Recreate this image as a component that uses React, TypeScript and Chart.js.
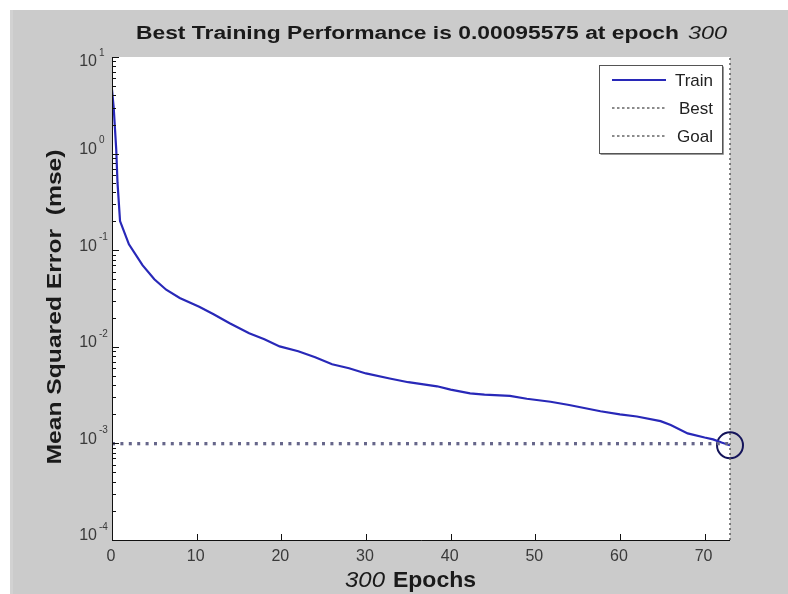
import React, { useEffect, useRef } from "react";
import { Chart, registerables } from "chart.js";

Chart.register(...registerables);

// ---- data ----
const epochs = [0, 0.2, 0.5, 0.65, 0.95, 2, 3.6, 5, 6.4, 8, 10.3, 12, 13.9, 16.2, 18, 19.8, 22, 24, 26, 28, 30, 32.8, 35, 38.4, 40, 42.3, 44, 47, 49, 51.8, 54, 57.7, 60, 62, 64.8, 66, 68, 70, 71, 72, 73];
const trainMse = [4.6, 3.0, 1.1, 0.5, 0.2, 0.115, 0.07, 0.05, 0.039, 0.032, 0.026, 0.0217, 0.0175, 0.0138, 0.012, 0.0101, 0.009, 0.0078, 0.0066, 0.006, 0.0053, 0.0047, 0.0043, 0.0039, 0.0036, 0.0033, 0.0032, 0.0031, 0.0029, 0.0027, 0.0025, 0.00215, 0.002, 0.0019, 0.0017, 0.00155, 0.00127, 0.00115, 0.0011, 0.00102, 0.00095575];
const bestEpoch = 73;
const bestPerf = 0.00095575;
const goalPerf = 0.001;
const xMin = 0;
const xMax = 73;
const yMin = 1e-4;
const yMax = 10;
const xTickValues = [0, 10, 20, 30, 40, 50, 60, 70];
const yExponents = [-4, -3, -2, -1, 0, 1];
const legendLabels = ["Train", "Best", "Goal"];
const titleText = "Best Training Performance is 0.00095575 at epoch";
const titleEpoch = "300";
const xLabelNum = "300";
const xLabelText = "Epochs";
const yLabelText = "Mean Squared Error  (mse)";

const FONT = '"Liberation Sans", Arial, sans-serif';
const GRAY = "#cbcbcb";
const TRAIN_COLOR = "#2828b8";

function fitText(ctx: CanvasRenderingContext2D, text: string, font: string, x: number, y: number, width: number, align: "left" | "center" = "left") {
  ctx.save();
  ctx.font = font;
  const w = ctx.measureText(text).width;
  const s = width / w;
  ctx.translate(x, y);
  ctx.scale(s, 1);
  ctx.textAlign = align;
  ctx.fillText(text, 0, 0);
  ctx.restore();
}

const framePlugin = {
  id: "matlabFrame",
  beforeDraw(chart: any) {
    const { ctx, chartArea: a } = chart;
    ctx.save();
    ctx.fillStyle = "#ffffff";
    ctx.fillRect(0, 0, chart.width, chart.height);
    ctx.fillStyle = GRAY;
    ctx.fillRect(10, 10, chart.width - 10, chart.height - 10);
    ctx.fillStyle = "#d2d2d2";
    ctx.fillRect(10, 10, 3, chart.height - 10);
    ctx.fillStyle = "#ffffff";
    ctx.fillRect(a.left, a.top, a.right - a.left, a.bottom - a.top);
    ctx.restore();
  },
  afterDraw(chart: any) {
    const { ctx, chartArea: a } = chart;
    const xs = chart.scales.x;
    const ys = chart.scales.y;
    ctx.save();
    // axis lines
    ctx.strokeStyle = "#111";
    ctx.lineWidth = 1;
    ctx.beginPath();
    ctx.moveTo(a.left + 0.5, a.top);
    ctx.lineTo(a.left + 0.5, a.bottom + 0.5);
    ctx.lineTo(a.right, a.bottom + 0.5);
    ctx.stroke();
    // y ticks (inward, log minor)
    ctx.beginPath();
    for (let n = -4; n <= 1; n++) {
      for (let k = 1; k <= 9; k++) {
        const v = k * Math.pow(10, n);
        if (v > yMax * 1.0001) break;
        const py = Math.round(ys.getPixelForValue(v)) + 0.5;
        const len = k === 1 ? 7 : 4;
        ctx.moveTo(a.left, py);
        ctx.lineTo(a.left + len, py);
      }
    }
    // x ticks (inward)
    for (const v of xTickValues) {
      const px = Math.round(xs.getPixelForValue(v)) + 0.5;
      ctx.moveTo(px, a.bottom);
      ctx.lineTo(px, a.bottom - 6);
    }
    ctx.stroke();

    // y tick labels
    ctx.fillStyle = "#3a3a3a";
    ctx.textBaseline = "middle";
    for (const n of yExponents) {
      const py = ys.getPixelForValue(Math.pow(10, n));
      let cy = py - 4;
      if (cy < a.top + 5) cy = a.top + 5;
      ctx.font = `16px ${FONT}`;
      ctx.textAlign = "right";
      ctx.fillText("10", 97, cy);
      ctx.font = `10px ${FONT}`;
      ctx.textAlign = "left";
      ctx.fillText(String(n), 99, cy - 9);
    }
    // x tick labels
    ctx.font = `16px ${FONT}`;
    ctx.textAlign = "center";
    for (const v of xTickValues) {
      const px = xs.getPixelForValue(v);
      ctx.fillText(String(v), px - 1, 557);
    }

    // title
    ctx.fillStyle = "#1a1a1a";
    ctx.textBaseline = "alphabetic";
    fitText(ctx, titleText, `bold 18px ${FONT}`, 136, 39, 543);
    fitText(ctx, titleEpoch, `italic 19px ${FONT}`, 688, 39, 39);

    // x label
    fitText(ctx, xLabelNum, `italic 22px ${FONT}`, 345, 587, 40);
    fitText(ctx, xLabelText, `bold 22px ${FONT}`, 393, 587, 83);

    // y label
    ctx.save();
    ctx.translate(61, 307);
    ctx.rotate(-Math.PI / 2);
    fitText(ctx, yLabelText, `bold 20px ${FONT}`, 0, 0, 315, "center");
    ctx.restore();

    // legend
    const lx = 599, ly = 65, lw = 123, lh = 88;
    ctx.fillStyle = "#ffffff";
    ctx.fillRect(lx, ly, lw, lh);
    ctx.strokeStyle = "#555";
    ctx.lineWidth = 1;
    ctx.strokeRect(lx + 0.5, ly + 0.5, lw, lh);
    ctx.strokeStyle = "#999";
    ctx.beginPath();
    ctx.moveTo(lx + 1.5, ly + lh + 1.5);
    ctx.lineTo(lx + lw + 1.5, ly + lh + 1.5);
    ctx.lineTo(lx + lw + 1.5, ly + 1.5);
    ctx.stroke();
    const rows = [80, 108, 136];
    legendLabels.forEach((lab, i) => {
      const yy = rows[i];
      ctx.beginPath();
      if (i === 0) {
        ctx.strokeStyle = TRAIN_COLOR;
        ctx.lineWidth = 2;
        ctx.setLineDash([]);
      } else {
        ctx.strokeStyle = "#666";
        ctx.lineWidth = 1.3;
        ctx.setLineDash([2.5, 2.5]);
      }
      ctx.moveTo(612, yy);
      ctx.lineTo(666, yy);
      ctx.stroke();
      ctx.setLineDash([]);
      ctx.fillStyle = "#222";
      ctx.textBaseline = "middle";
      ctx.font = `17px ${FONT}`;
      ctx.textAlign = "right";
      ctx.fillText(lab, 713, yy + 1);
    });
    ctx.restore();
  },
};

export default function App() {
  const ref = useRef<HTMLCanvasElement | null>(null);
  useEffect(() => {
    if (!ref.current) return;
    const chart = new Chart(ref.current, {
      type: "line",
      data: {
        datasets: [
          {
            label: "Goal",
            data: [{ x: xMin, y: goalPerf }, { x: xMax, y: goalPerf }],
            borderColor: "#66668a",
            borderWidth: 3,
            borderDash: [3, 5.4],
            pointRadius: 0,
            fill: false,
          },
          {
            label: "BestPerf",
            data: [{ x: xMin, y: bestPerf }, { x: bestEpoch, y: bestPerf }],
            borderColor: "rgba(90,90,128,0.3)",
            borderWidth: 1.5,
            borderDash: [3, 5.4],
            pointRadius: 0,
            fill: false,
          },
          {
            label: "Best",
            data: [{ x: bestEpoch, y: yMin }, { x: bestEpoch, y: yMax }],
            borderColor: "#5a5a5a",
            borderWidth: 1.5,
            borderDash: [2, 3],
            pointRadius: 0,
            fill: false,
            clip: false as any,
          },
          {
            label: "Train",
            data: epochs.map((e, i) => ({ x: e, y: trainMse[i] })),
            borderColor: TRAIN_COLOR,
            borderWidth: 2.2,
            pointRadius: 0,
            tension: 0,
            fill: false,
          },
          {
            label: "BestPoint",
            data: [{ x: bestEpoch, y: bestPerf }],
            showLine: false,
            pointRadius: 13,
            pointStyle: "circle",
            pointBorderColor: "#14145a",
            pointBorderWidth: 2,
            pointBackgroundColor: "rgba(0,0,0,0)",
            borderColor: "#14145a",
            clip: false as any,
          },
        ],
      },
      options: {
        animation: false,
        responsive: false,
        layout: { padding: { left: 112, top: 57, right: 58, bottom: 54 } },
        plugins: { legend: { display: false }, tooltip: { enabled: false }, title: { display: false } },
        scales: {
          x: {
            type: "linear",
            min: xMin,
            max: xMax,
            ticks: { display: false },
            grid: { display: false, drawTicks: false },
            border: { display: false },
          },
          y: {
            type: "logarithmic",
            min: yMin,
            max: yMax,
            ticks: { display: false },
            grid: { display: false, drawTicks: false },
            border: { display: false },
          },
        },
      },
      plugins: [framePlugin],
    });
    return () => chart.destroy();
  }, []);
  return (
    <div style={{ position: "fixed", left: 0, top: 0, width: 788, height: 594 }}>
      <canvas ref={ref} width={788} height={594} style={{ display: "block", width: 788, height: 594 }} />
    </div>
  );
}
